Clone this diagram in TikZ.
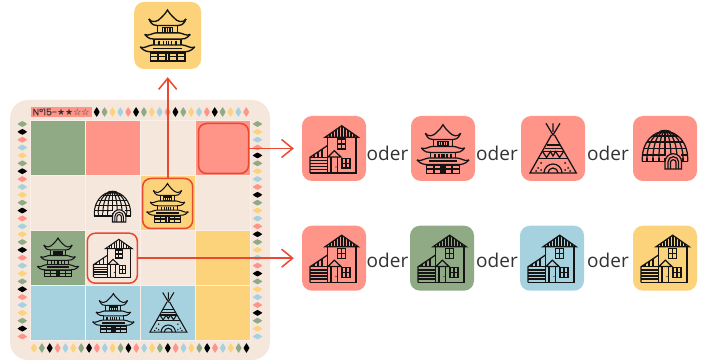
\documentclass[tikz,border=0pt]{standalone}
\usepackage{fontspec}
\setmainfont{Open Sans}
\newfontfamily\labelfont[FakeBold=0.5]{Poppins}
\newfontfamily\starfont{DejaVu Sans}
\usetikzlibrary{arrows.meta}
\definecolor{cpink}{HTML}{FF9489}
\definecolor{cgreen}{HTML}{8FAA85}
\definecolor{cblue}{HTML}{A6D2DF}
\definecolor{cyellow}{HTML}{FCD27A}
\definecolor{cboard}{HTML}{F6E7DD}
\definecolor{cedge}{HTML}{FAF0E9}
\definecolor{cred}{HTML}{E8492F}
\definecolor{cink}{HTML}{141414}
\definecolor{ctext}{HTML}{333333}
\tikzset{
  x=1pt,y=-1pt,
  tile/.style={rectangle,rounded corners=10pt,minimum width=64pt,minimum height=65pt,inner sep=0pt,draw=none},
  cell/.style={rectangle,minimum size=55pt,inner sep=0pt,draw=cedge,line width=.6pt},
  hl/.style={rectangle,rounded corners=8pt,minimum size=50pt,inner sep=0pt,draw=cred,line width=1.5pt},
  conn/.style={draw=cred,line width=1.9pt,-{Straight Barb[length=11pt,width=18pt,line width=1.5pt]},shorten >=8pt},
  oderlab/.style={font=\fontsize{19}{20}\selectfont,text=ctext,inner sep=0pt},
  icon/.style={draw=cink,line cap=butt,line join=miter},
  pics/house/.style={code={
    \begin{scope}[icon]
      \draw (-6.7,24) -- (-6.7,-11.7) (22,-11.7) -- (22,24);
      \draw (-24,24) -- (22.5,24);
      \draw (-9,-11.7) -- (7.7,-23.3) -- (24.3,-11.7) -- cycle;
      \foreach \i in {-4,-1,2,5,8,11,14,17,20}{
        \pgfmathsetmacro{\tp}{-11.7-(16.6-abs(\i-7.7))*.70}
        \draw (\i,-11.7) -- (\i,\tp);}
      \draw (-24,24) -- (-24,8.3) -- (-6.7,-3.3);
      \draw (-24,8.3) -- (-6.7,8.3);
      \foreach \i in {-20,-16,-12}{
        \pgfmathsetmacro{\tp}{8.3-(\i+24)*.67}
        \draw (\i,8.3) -- (\i,\tp);}
      \foreach \j in {11.5,14.5,17.5,20.5}{\draw (-24,\j) -- (-6.7,\j);}
      \draw (3.7,-10) rectangle (11.7,0) (7.7,-10) -- (7.7,0) (3.7,-5) -- (11.7,-5);
      \draw (8,9.3) rectangle (16,19) (12,9.3) -- (12,19) (8,14.2) -- (16,14.2);
      \draw (-3,24) -- (-3,8) (3.7,8) -- (3.7,24);
      \draw (-6,8) -- (0.3,1.7) -- (7,8) -- cycle;
      \fill[cink] (2,18) circle (.7);
    \end{scope}}},
  pics/pagoda/.style={code={
    \begin{scope}[icon]
      \draw (-17.7,-15.7) .. controls (-15,-11.5) and (-9,-13) .. (-6,-17)
            .. controls (-3,-20) and (-1,-22) .. (0,-24.3)
            .. controls (1,-22) and (3,-20) .. (6,-17)
            .. controls (9,-13) and (15,-11.5) .. (17.7,-15.7);
      \draw (-17.7,-15.7) .. controls (-15,-9.5) and (-12,-9.5) .. (-10,-9.5) -- (10,-9.5) .. controls (12,-9.5) and (15,-9.5) .. (17.7,-15.7);
      \draw (-9.3,-9.5) -- (-9.3,-2.3) (9.3,-9.5) -- (9.3,-2.3);
      \draw (-5,-7.5) rectangle (5,-3) (0,-7.5) -- (0,-3) (-2.5,-7.5) -- (-2.5,-3) (2.5,-7.5) -- (2.5,-3);
      \draw (-21.7,-1) .. controls (-18,1) and (-14,-2.5) .. (-11,-2.5) -- (11,-2.5) .. controls (14,-2.5) and (18,1) .. (21.7,-1);
      \draw (-21.7,-1) .. controls (-18,3.5) and (-15,3.5) .. (-12,3.5) -- (12,3.5) .. controls (15,3.5) and (18,3.5) .. (21.7,-1);
      \draw (-12.7,3.5) -- (-12.7,9) (12.7,3.5) -- (12.7,9);
      \foreach \i in {-8,-4,-1,1,4,8}{\draw (\i,5) -- (\i,9);}
      \draw (-26,11) .. controls (-22,13) and (-18,9) .. (-14,9) -- (14,9) .. controls (18,9) and (22,13) .. (26,11);
      \draw (-26,11) .. controls (-22,15.5) and (-18,15.5) .. (-15,15.5) -- (15,15.5) .. controls (18,15.5) and (22,15.5) .. (26,11);
      \draw[line width=1.6pt] (-14,12.2) -- (14,12.2);
      \draw (-16.5,16.7) rectangle (16.5,24.3);
      \foreach \i in {-9,-2,-.7,.7,2,9}{\draw (\i,16.7) -- (\i,24.3);}
      \draw (-16.5,20) -- (-2,20) (2,20) -- (16.5,20);
    \end{scope}}},
  pics/tipi/.style={code={
    \begin{scope}[icon]
      \draw (-7,-25.7) -- (0,-14) -- (7,-25.7) (0,-25.7) -- (0,-17);
      \draw (-1.5,-14) -- (-23,24) -- (23.3,24) -- (1.5,-14);
      \draw (-6.5,-4) -- (6.5,-4) (-8.5,-.7) -- (8.5,-.7) (-10.5,2.5) -- (10.5,2.5) (-14.5,9.8) -- (14.5,9.8);
      \draw (-10.5,2.5) -- (-6.5,8.5) -- (-2.5,2.5) -- (0,7) -- (2.5,2.5) -- (6.5,8.5) -- (10.5,2.5);
      \draw (-9,24) arc[start angle=180,end angle=360,radius=9];
      \draw (-5,24) arc[start angle=180,end angle=360,radius=5];
      \foreach \p/\q in {-15/19,-12/14,-12/21,-17/22,15/19,12/14,12/21,17/22}{\fill[cink] (\p,\q) circle (1);}
    \end{scope}}},
  pics/igloo/.style={code={
    \begin{scope}[icon]
      \draw (-22.7,12.5) -- (-22.7,9) arc[start angle=180,end angle=360,x radius=22.7,y radius=26.7] -- (22.7,12.5);
      \draw (-22.7,12.5) -- (0,12.5) (16.6,12.5) -- (22.7,12.5);
      \foreach \r in {6,12}{\draw (-\r,9) arc[start angle=180,end angle=352,x radius=\r,y radius=26.7];}
      \draw (-18,9) arc[start angle=180,end angle=360,x radius=18,y radius=26.7];
      \draw (0,-17.7) -- (0,5);
      \draw (0,9) -- (0,12.5);
      \foreach \r in {6,12,18}{\draw (-\r,9) -- (-\r,12.5);}
      \draw (18,9) -- (18,12.5);
      \draw (-22.5,6) -- (1,6) (16,6) -- (22.5,6) (-21.2,-.5) -- (21.2,-.5) (-18.2,-7) -- (18.2,-7) (-12.9,-13) -- (12.9,-13);
      \fill[cink] (0,-17.5) ellipse (6 and 1.6);
      \draw (0,20) -- (0,13) arc[start angle=180,end angle=360,radius=8.3] -- (16.6,20) -- cycle;
      \draw (3,20) -- (3,13) arc[start angle=180,end angle=360,radius=5.3] -- (13.6,20);
      \draw (5.5,20) -- (5.5,13.5) arc[start angle=180,end angle=360,radius=2.8] -- (11.1,20);
    \end{scope}}},
}
\newcommand{\gemV}[3]{\fill[#3] (#1-2.9,#2) -- (#1-1.6,#2-2.5) -- (#1,#2-4.8) -- (#1+1.6,#2-2.5) -- (#1+2.9,#2) -- (#1+1.6,#2+2.5) -- (#1,#2+4.8) -- (#1-1.6,#2+2.5) -- cycle;}
\newcommand{\gemH}[3]{\fill[#3] (#1,#2-2.9) -- (#1+2.5,#2-1.6) -- (#1+4.8,#2) -- (#1+2.5,#2+1.6) -- (#1,#2+2.9) -- (#1-2.5,#2+1.6) -- (#1-4.8,#2) -- (#1-2.5,#2-1.6) -- cycle;}
\begin{document}
\begin{tikzpicture}
\useasboundingbox (0,0) rectangle (705,363);
\fill[white] (0,0) rectangle (705,363);
% board
\fill[cboard,rounded corners=18pt] (10,100) rectangle (270,360);
\foreach \cx/\cy/\cc [count=\n] in {
  57.5/147.5/cgreen,112.5/147.5/cpink,167.5/147.5/cboard,222.5/147.5/cpink,
  57.5/202.5/cboard,112.5/202.5/cboard,167.5/202.5/cyellow,222.5/202.5/cboard,
  57.5/258/cgreen,112.5/258/cboard,167.5/258/cboard,222.5/258/cyellow,
  57.5/313/cblue,112.5/313/cblue,167.5/313/cblue,222.5/313/cyellow}{
  \node[cell,fill=\cc] (cell\n) at (\cx,\cy) {};
}
% gems
\foreach \i in {0,...,19}{
  \pgfmathsetmacro{\px}{96.7+7.87*\i}
  \pgfmathtruncatemacro{\m}{mod(\i,5)}
  \ifcase\m \gemV{\px}{112}{black}\or\gemV{\px}{112}{cgreen}\or\gemV{\px}{112}{cyellow}\or\gemV{\px}{112}{cblue}\or\gemV{\px}{112}{cpink}\fi
}
\foreach \i in {0,...,27}{
  \pgfmathsetmacro{\px}{34+7.87*\i}
  \pgfmathtruncatemacro{\m}{mod(\i,5)}
  \ifcase\m \gemV{\px}{348}{cyellow}\or\gemV{\px}{348}{cgreen}\or\gemV{\px}{348}{black}\or\gemV{\px}{348}{cpink}\or\gemV{\px}{348}{cblue}\fi
}
\foreach \i in {0,...,27}{
  \pgfmathsetmacro{\py}{124+7.87*\i}
  \pgfmathtruncatemacro{\m}{mod(\i,5)}
  \ifcase\m \gemH{22.3}{\py}{cgreen}\or\gemH{22.3}{\py}{black}\or\gemH{22.3}{\py}{cpink}\or\gemH{22.3}{\py}{cblue}\or\gemH{22.3}{\py}{cyellow}\fi
  \ifcase\m \gemH{257.5}{\py}{cgreen}\or\gemH{257.5}{\py}{cyellow}\or\gemH{257.5}{\py}{cblue}\or\gemH{257.5}{\py}{cpink}\or\gemH{257.5}{\py}{black}\fi
}
% level label
\node[rectangle,fill=cpink,minimum width=61pt,minimum height=10pt,inner sep=0pt,text=ctext,font=\fontsize{9.4}{10}\labelfont] (level) at (61,112) {N°15-{\starfont\fontsize{9}{10}\selectfont ★★☆☆}};
% board icons
\pic[scale=.8,line width=1.05pt] at (112.5,206) {igloo};
\pic[scale=.8,line width=1.05pt] at (58,257.5) {pagoda};
\pic[scale=.8,line width=1.05pt] at (113.4,313) {pagoda};
\pic[scale=.8,line width=1.05pt] at (168.3,313) {tipi};
% highlights
\node[hl] (hlA) at (223.5,148.5) {};
\node[hl] (hlB) at (167.7,203.5) {};
\node[hl] (hlC) at (112.3,258.2) {};
\pic[scale=.8,line width=1.05pt] at (167.5,203) {pagoda};
\pic[scale=.8,line width=1.05pt] at (112.7,258) {house};
% tiles
\node[tile,fill=cyellow,minimum width=67pt,minimum height=67pt] (top) at (167.7,35.5) {};
\pic[scale=1.05,line width=1.35pt] at (167.5,35.5) {pagoda};
\foreach \nm/\tx/\ty/\cc in {ra/334/148.5/cpink,rb/443/148.5/cpink,rc/553/148.5/cpink,rd/665/148.5/cpink,
  sa/334/258.2/cpink,sb/442/258.2/cgreen,sc/552/258.2/cblue,sd/665/258.2/cyellow}{
  \node[tile,fill=\cc] (\nm) at (\tx,\ty) {};
}
\pic[line width=1.25pt] at (334,149) {house};
\pic[line width=1.25pt] at (443,149) {pagoda};
\pic[line width=1.25pt] at (553,149) {tipi};
\pic[line width=1.25pt] at (665,149) {igloo};
\pic[line width=1.25pt] at (334,258.5) {house};
\pic[line width=1.25pt] at (442,258.5) {house};
\pic[line width=1.25pt] at (552,258.5) {house};
\pic[line width=1.25pt] at (665,258.5) {house};
% oder
\node[oderlab] (oa) at (387.5,153) {oder};
\node[oderlab] (ob) at (497,153) {oder};
\node[oderlab] (oc) at (608,153) {oder};
\node[oderlab] (od) at (387.5,260) {oder};
\node[oderlab] (oe) at (497,260) {oder};
\node[oderlab] (of) at (608,260) {oder};
% connectors
\draw[conn] (hlB.north) -- (top.south);
\draw[conn] (hlA.east) -- (ra.west);
\draw[conn] (hlC.east) -- (sa.west);
\end{tikzpicture}
\end{document}
